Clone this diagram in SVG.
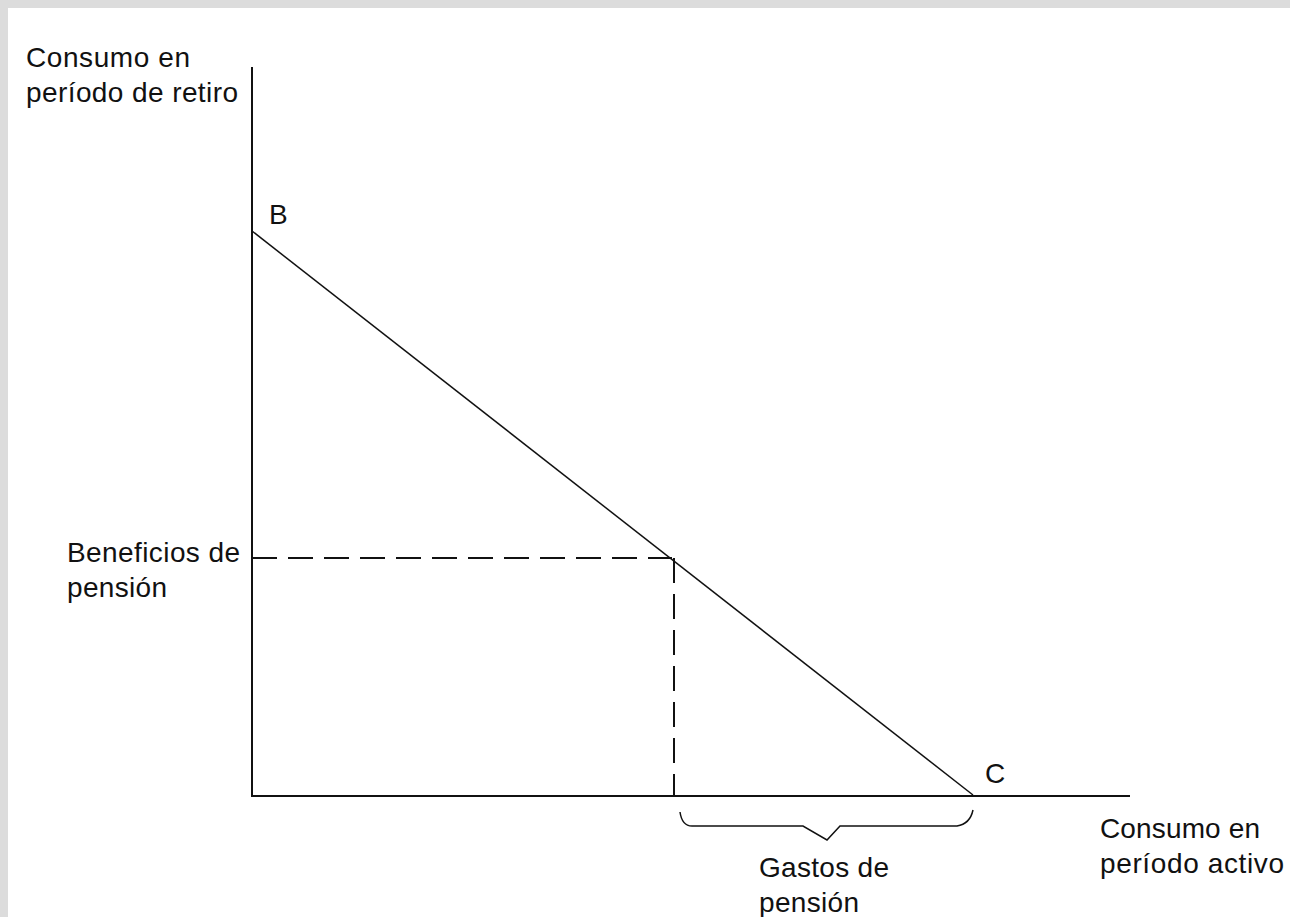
<svg xmlns="http://www.w3.org/2000/svg" width="1290" height="917" viewBox="0 0 1290 917">
<style>
.t{font-family:"Liberation Sans",Arial,sans-serif;font-size:28px;fill:#111}
.ax{stroke:#111;stroke-width:2;fill:none}
.ln{stroke:#111;stroke-width:1.5;fill:none}
.ds{stroke:#111;stroke-width:2;fill:none;stroke-dasharray:25 11}
</style>
<rect x="0" y="0" width="1290" height="917" fill="#dcdcdc"/>
<rect x="8" y="8" width="1282" height="909" fill="#ffffff"/>
<g id="connectors">
<path class="ax" d="M252,67 V796 H1130"/>
<path class="ln" d="M252,231 L973,795"/>
<path class="ds" d="M252,558 H672"/>
<path class="ds" d="M674,558 V796"/>
<path class="ln" d="M680,812 Q682,826 692,826 H803 L827,840 L840,826 H957 Q970,824 973,810"/>
</g>
<g id="ylabel"><text class="t" x="26" y="67" textLength="164">Consumo en</text><text class="t" x="26" y="102" textLength="212">período de retiro</text></g>
<g id="B"><text class="t" x="269" y="224">B</text></g>
<g id="C"><text class="t" x="985" y="783">C</text></g>
<g id="benef"><text class="t" x="67" y="562" textLength="173">Beneficios de</text><text class="t" x="67" y="597" textLength="100">pensión</text></g>
<g id="gastos"><text class="t" x="759" y="877" textLength="130">Gastos de</text><text class="t" x="759" y="912" textLength="100">pensión</text></g>
<g id="xlabel"><text class="t" x="1100" y="838" textLength="160">Consumo en</text><text class="t" x="1100" y="873" textLength="184">período activo</text></g>
</svg>
